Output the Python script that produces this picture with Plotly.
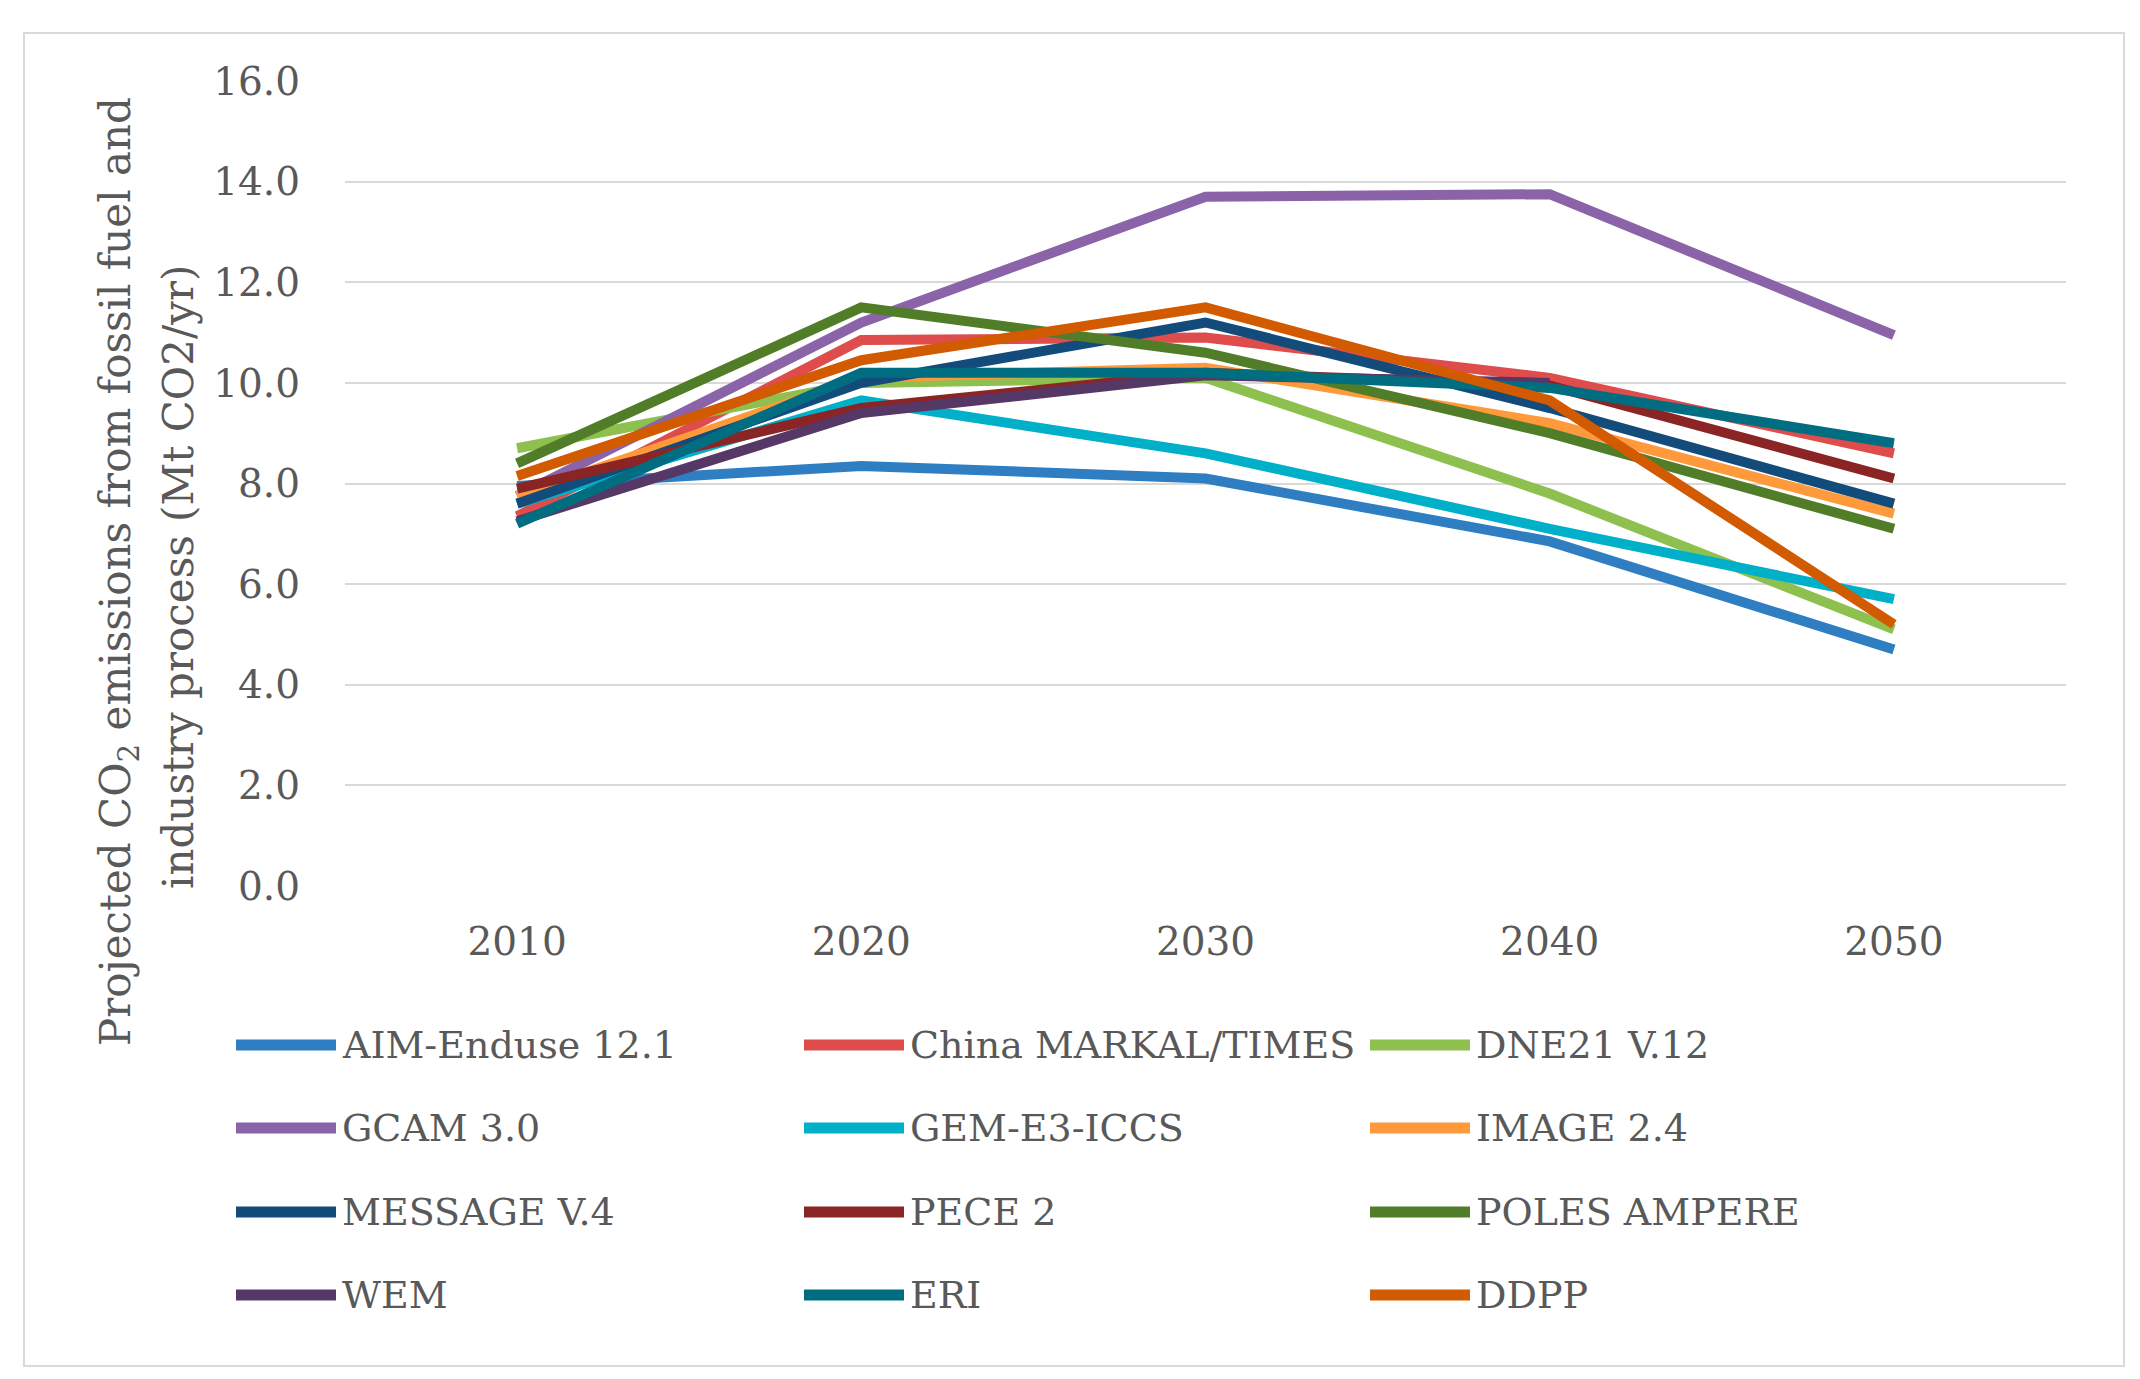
import plotly.graph_objects as go

# Projected CO2 emissions per model (Mt CO2/yr)
years = [2010, 2020, 2030, 2040, 2050]

models = ["AIM-Enduse 12.1", "China MARKAL/TIMES", "DNE21 V.12",
          "GCAM 3.0", "GEM-E3-ICCS", "IMAGE 2.4",
          "MESSAGE V.4", "PECE 2", "POLES AMPERE",
          "WEM", "ERI", "DDPP"]

aim = [7.95, 8.35, 8.1, 6.85, 4.7]
china_markal = [7.35, 10.85, 10.9, 10.1, 8.6]
dne21 = [8.7, 10.0, 10.1, 7.8, 5.1]
gcam = [7.75, 11.2, 13.7, 13.75, 10.95]
gem_e3 = [7.6, 9.65, 8.6, 7.1, 5.7]
image = [7.75, 10.1, 10.3, 9.2, 7.4]
message = [7.6, 10.0, 11.2, 9.5, 7.6]
pece = [7.9, 9.5, 10.2, 9.95, 8.1]
poles = [8.4, 11.5, 10.6, 9.0, 7.1]
wem = [7.25, 9.4, 10.15, 10.0, None]
eri = [7.2, 10.2, 10.2, 9.9, 8.8]
ddpp = [8.15, 10.45, 11.5, 9.65, 5.2]

series = [aim, china_markal, dne21, gcam, gem_e3, image,
          message, pece, poles, wem, eri, ddpp]

colors = ["#2E7EC1", "#DE4C4C", "#8DC04E", "#8A63A8", "#00B0C8", "#FF9A3C",
          "#134B7A", "#8B2525", "#527D28", "#553866", "#006E80", "#D25A00"]

y_ticks = [0, 2, 4, 6, 8, 10, 12, 14, 16]

FONT = "DejaVu Serif"
TXT = "#595959"
W, H = 2140, 1379
L, R, T, B = 337, 82, 73, 501
PW, PH = W - L - R, H - T - B


def px(x):
    return (x - L) / PW


def py(y):
    return (H - B - y) / PH


fig = go.Figure()

for name, vals, col in zip(models, series, colors):
    fig.add_trace(go.Scatter(
        x=years, y=vals, name=name, mode="lines",
        line=dict(color=col, width=10),
        showlegend=False,
    ))

# hand-made legend: 3 columns x 4 rows
col_x = [228, 796, 1362]
row_y = [1037, 1120, 1204, 1287]
for i, (name, col) in enumerate(zip(models, colors)):
    cx = col_x[i % 3]
    ry = row_y[i // 3]
    fig.add_shape(type="line", xref="paper", yref="paper",
                  x0=px(cx), x1=px(cx + 100), y0=py(ry), y1=py(ry),
                  line=dict(color=col, width=11))
    fig.add_annotation(xref="paper", yref="paper", x=px(cx + 104), y=py(ry),
                       text=name, showarrow=False, xanchor="left", yanchor="middle",
                       font=dict(family=FONT, size=38, color=TXT))

# outer border
fig.add_shape(type="rect", xref="paper", yref="paper",
              x0=px(16), x1=px(2116), y0=py(25), y1=py(1358),
              line=dict(color="#D9D9D9", width=2), layer="below")

# y axis title (two lines)
fig.add_annotation(xref="paper", yref="paper", x=px(110), y=py(564),
                   text="Projected CO<sub>2</sub> emissions from fossil fuel and",
                   textangle=-90, showarrow=False, xanchor="center", yanchor="middle",
                   font=dict(family=FONT, size=42, color=TXT))
fig.add_annotation(xref="paper", yref="paper", x=px(170), y=py(569),
                   text="industry process (Mt CO2/yr)",
                   textangle=-90, showarrow=False, xanchor="center", yanchor="middle",
                   font=dict(family=FONT, size=42, color=TXT))

fig.update_layout(
    width=W, height=H,
    margin=dict(l=L, r=R, t=T, b=B),
    plot_bgcolor="white", paper_bgcolor="white",
    font=dict(family=FONT, size=38, color=TXT),
    showlegend=False,
)

fig.update_xaxes(
    range=[2005, 2055], tickvals=years, ticktext=[str(y) for y in years],
    showgrid=False, zeroline=False, showline=False, ticks="",
    ticklabelstandoff=29,
    tickfont=dict(family=FONT, size=39, color=TXT),
)
fig.update_yaxes(
    range=[0, 16], tickvals=y_ticks, tickformat=".1f",
    showgrid=True, gridcolor="#D9D9D9", gridwidth=2,
    zeroline=False, showline=False, ticks="",
    ticklabelstandoff=44,
    tickfont=dict(family=FONT, size=39, color=TXT),
)

fig.write_html("out.html")
